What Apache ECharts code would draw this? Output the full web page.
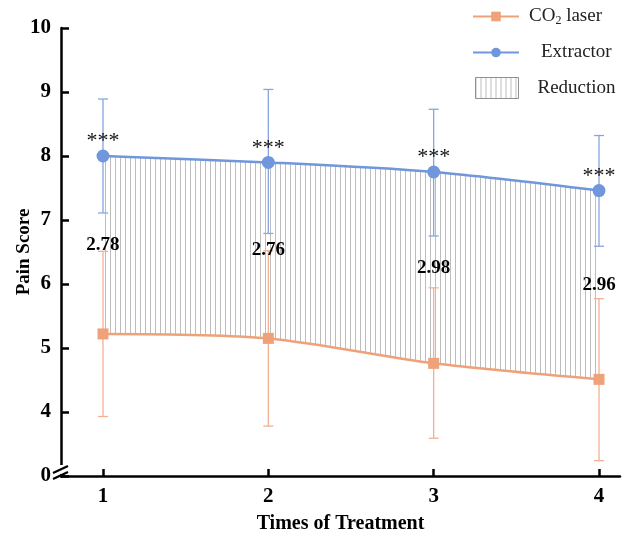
<!DOCTYPE html>
<html>
<head>
<meta charset="utf-8">
<script src="https://cdn.jsdelivr.net/npm/echarts@6/dist/echarts.min.js"></script>
<style>
  html, body { margin: 0; padding: 0; background: #fff; }
  #main { width: 629px; height: 534px; }
</style>
</head>
<body>
<div id="main"></div>
<script>
  // data
  var times = [1, 2, 3, 4];
  var co2Mean = [5.22, 5.15, 4.76, 4.51];
  var co2Low = [3.93, 3.78, 3.59, 3.24];
  var co2High = [6.51, 6.52, 5.94, 5.77];
  var extMean = [8.00, 7.90, 7.75, 7.46];
  var extLow = [7.11, 6.79, 6.75, 6.59];
  var extHigh = [8.89, 9.04, 8.73, 8.32];
  var reductionText = ['2.78', '2.76', '2.98', '2.96'];
  var sigText = '***';
  // broken y axis: the lowest tick (3) is shown as 0
  var yTickValues = [3, 4, 5, 6, 7, 8, 9, 10];
  var yTickLabels = ['0', '4', '5', '6', '7', '8', '9', '10'];
  var xTickLabels = ['1', '2', '3', '4'];

  var serif = '"Liberation Serif", "Times New Roman", serif';
  var blue = '#7097DB';
  var orange = '#EFA27A';
  var xMin = 0.746, xMax = 4.127;

  // vertical hatch used for the reduction band
  var hatch = document.createElement('canvas');
  hatch.width = 5;
  hatch.height = 5;
  var hc = hatch.getContext('2d');
  hc.fillStyle = '#bdbdbd';
  hc.fillRect(0, 0, 1, 5);
  var hatchFill = { image: hatch, repeat: 'repeat' };

  function errorBars(name, low, high, color) {
    return {
      type: 'custom',
      name: name,
      z: 3,
      silent: true,
      data: times.map(function (t, i) { return [t, low[i], high[i]]; }),
      encode: { x: 0, y: [1, 2] },
      renderItem: function (params, api) {
        var lo = api.coord([api.value(0), api.value(1)]);
        var hi = api.coord([api.value(0), api.value(2)]);
        var w = 5;
        var st = { stroke: color, lineWidth: 1.3 };
        return {
          type: 'group',
          children: [
            { type: 'line', shape: { x1: lo[0], y1: lo[1], x2: hi[0], y2: hi[1] }, style: st },
            { type: 'line', shape: { x1: lo[0] - w, y1: lo[1], x2: lo[0] + w, y2: lo[1] }, style: st },
            { type: 'line', shape: { x1: hi[0] - w, y1: hi[1], x2: hi[0] + w, y2: hi[1] }, style: st }
          ]
        };
      }
    };
  }

  var chart = echarts.init(document.getElementById('main'));

  var option = {
    backgroundColor: '#fff',
    animation: false,
    grid: { left: 61, right: 9, top: 28, bottom: 58, outerBoundsMode: 'none' },
    legend: [{
      data: ['CO2 laser', 'Extractor'],
      orient: 'vertical',
      left: 472,
      top: 7,
      padding: 0,
      itemWidth: 46,
      itemHeight: 12,
      itemGap: 16,
      formatter: function (name) {
        return name === 'CO2 laser' ? 'CO{sub|2} laser' : '{gap|}' + name;
      },
      textStyle: {
        fontFamily: serif, fontSize: 19, color: '#222', padding: [0, 0, 0, 5],
        rich: {
          sub: { fontFamily: serif, fontSize: 12, color: '#222', padding: [9, 0, 0, 0] },
          gap: { width: 12 }
        }
      }
    }, {
      data: [{
        name: 'Reduction',
        icon: 'rect',
        itemStyle: { color: hatchFill, borderColor: '#8f8f8f', borderWidth: 1 }
      }],
      orient: 'vertical',
      left: 475,
      top: 77,
      padding: 0,
      itemWidth: 43,
      itemHeight: 21,
      textStyle: { fontFamily: serif, fontSize: 19, color: '#222', padding: [0, 0, 0, 14] }
    }],
    xAxis: {
      type: 'value',
      z: 10,
      min: xMin,
      max: xMax,
      name: 'Times of Treatment',
      nameLocation: 'middle',
      nameGap: 38,
      nameMoveOverlap: false,
      nameTextStyle: { fontFamily: serif, fontSize: 20, fontWeight: 'bold', color: '#000' },
      axisLine: { show: true, lineStyle: { color: '#000', width: 2.5 } },
      axisTick: { show: true, inside: true, length: 7, customValues: times, lineStyle: { color: '#000', width: 2.5 } },
      axisLabel: {
        customValues: times, margin: 10,
        fontFamily: serif, fontSize: 21, fontWeight: 'bold', color: '#000',
        formatter: function (v) { return xTickLabels[times.indexOf(v)]; }
      },
      splitLine: { show: false }
    },
    yAxis: {
      type: 'value',
      z: 10,
      min: 3,
      max: 10,
      interval: 1,
      name: 'Pain Score',
      nameLocation: 'middle',
      nameGap: 27,
      nameMoveOverlap: false,
      nameTextStyle: { fontFamily: serif, fontSize: 19, fontWeight: 'bold', color: '#000' },
      axisLine: { show: true, lineStyle: { color: '#000', width: 2.5 } },
      axisTick: { show: true, inside: true, length: 8, lineStyle: { color: '#000', width: 2.5 } },
      axisLabel: {
        margin: 10,
        fontFamily: serif, fontSize: 21, fontWeight: 'bold', color: '#000',
        formatter: function (v) { return yTickLabels[yTickValues.indexOf(v)]; }
      },
      splitLine: { show: false }
    },
    series: [
      {
        // hatch from the extractor curve downwards ...
        name: 'Reduction',
        type: 'line',
        z: 1,
        smooth: 0.3,
        silent: true,
        data: times.map(function (t, i) { return [t, extMean[i]]; }),
        symbol: 'none',
        itemStyle: { color: '#bbb' },
        lineStyle: { width: 0, opacity: 0 },
        areaStyle: { color: hatchFill, opacity: 1, origin: 'start' }
      },
      {
        // ... then blanked below the CO2 curve, leaving the band
        name: 'band mask',
        type: 'line',
        z: 2,
        smooth: 0.3,
        silent: true,
        data: times.map(function (t, i) { return [t, co2Mean[i]]; }),
        symbol: 'none',
        itemStyle: { color: '#fff' },
        lineStyle: { width: 0, opacity: 0 },
        areaStyle: { color: '#fff', opacity: 1, origin: 'start' }
      },
      errorBars('CO2 error', co2Low, co2High, '#F3B092'),
      errorBars('Extractor error', extLow, extHigh, '#86A6E0'),
      {
        name: 'CO2 laser',
        type: 'line',
        z: 5,
        smooth: 0.3,
        data: times.map(function (t, i) { return [t, co2Mean[i]]; }),
        symbol: 'rect',
        symbolSize: 11,
        itemStyle: { color: orange },
        lineStyle: { color: orange, width: 2.5 }
      },
      {
        name: 'Extractor',
        type: 'line',
        z: 5,
        smooth: 0.3,
        data: times.map(function (t, i) { return [t, extMean[i]]; }),
        symbol: 'circle',
        symbolSize: 13,
        itemStyle: { color: blue },
        lineStyle: { color: blue, width: 2.5 },
        label: {
          show: true, position: 'top', distance: -3,
          formatter: sigText,
          fontFamily: serif, fontSize: 22, color: '#111'
        }
      },
      {
        name: 'reduction labels',
        type: 'scatter',
        z: 6,
        silent: true,
        symbolSize: 1,
        itemStyle: { color: 'rgba(0,0,0,0)' },
        data: times.map(function (t, i) { return [t, (extMean[i] + co2Mean[i]) / 2]; }),
        label: {
          show: true, position: 'inside',
          formatter: function (p) { return reductionText[p.dataIndex]; },
          fontFamily: serif, fontSize: 19, fontWeight: 'bold', color: '#000',
          textBorderWidth: 0, opacity: 1
        }
      }
    ]
  };

  chart.setOption(option);

  // break marks at the bottom of the y axis
  var c = chart.convertToPixel({ gridIndex: 0 }, [xMin, 3]);
  chart.setOption({
    graphic: [
      { type: 'rect', z: 100, shape: { x: c[0] - 3, y: c[1] - 11, width: 6, height: 9 }, style: { fill: '#fff' } },
      { type: 'line', z: 101, shape: { x1: c[0] - 8, y1: c[1] - 3, x2: c[0] + 7, y2: c[1] - 10 }, style: { stroke: '#000', lineWidth: 2.2 } },
      { type: 'line', z: 101, shape: { x1: c[0] - 8, y1: c[1] + 3, x2: c[0] + 7, y2: c[1] - 4 }, style: { stroke: '#000', lineWidth: 2.2 } }
    ]
  });
</script>
</body>
</html>
